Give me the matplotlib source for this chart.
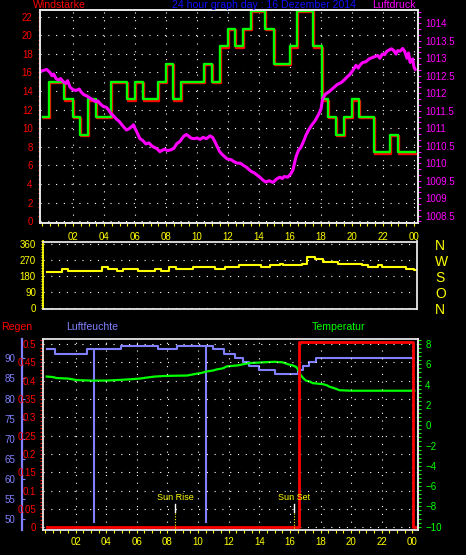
import numpy as np
import matplotlib
matplotlib.use('Agg')
import matplotlib.pyplot as plt
from matplotlib.ticker import MultipleLocator, FuncFormatter
from matplotlib.transforms import offset_copy

plt.rcParams['font.family'] = ['Liberation Sans', 'DejaVu Sans']

# --- data (hours since midnight) ---
hour_ticks = list(range(2, 25, 2))
hour_labels = ['%02d' % (h % 24) for h in hour_ticks]

# wind speed (step series, value holds until next time)
wind_t = [0.08, 0.47, 1.44, 1.98, 2.45, 2.99, 3.46, 4.43, 5.46, 6.0,
          6.5, 7.48, 7.98, 8.47, 8.95, 10.45, 10.99, 11.48, 11.98, 12.45,
          12.95, 13.48, 14.41, 14.99, 16.0, 16.43, 17.5, 18.05, 18.43, 18.97,
          19.5, 20.0, 20.47, 21.44, 22.45, 22.95, 24.08]
wind_v = [11.2, 15.0, 13.1, 11.2, 9.3, 13.1, 11.2, 15.0, 13.1, 15.0,
          13.1, 15.0, 16.9, 13.1, 15.0, 16.9, 15.0, 18.8, 20.7, 18.8,
          20.7, 22.6, 20.7, 16.9, 18.8, 22.6, 18.8, 13.1, 11.2, 9.3,
          11.2, 13.1, 11.2, 7.4, 9.3, 7.4, 7.4]

# air pressure (hPa)
press_t = [0.0, 0.3, 0.5, 0.65, 0.75, 0.9, 1.05, 1.2, 1.35, 1.53,
           1.65, 1.8, 2.0, 2.2, 2.4, 2.55, 2.7, 2.9, 3.1, 3.25,
           3.45, 3.6, 3.8, 3.96, 4.15, 4.3, 4.45, 4.6, 4.8, 4.97,
           5.15, 5.3, 5.45, 5.6, 5.8, 5.9, 6.0, 6.15, 6.32, 6.5,
           6.7, 6.9, 7.07, 7.25, 7.4, 7.6, 7.72, 7.9, 8.1, 8.3,
           8.5, 8.7, 8.9, 9.12, 9.3, 9.45, 9.6, 9.8, 10.0, 10.2,
           10.4, 10.6, 10.84, 11.0, 11.15, 11.3, 11.45, 11.6, 11.8, 11.95,
           12.2, 12.4, 12.6, 12.8, 12.95, 13.2, 13.48, 13.7, 13.91, 14.1,
           14.3, 14.45, 14.65, 14.9, 15.14, 15.35, 15.5, 15.63, 15.85, 16.06,
           16.2, 16.3, 16.4, 16.56, 16.7, 16.9, 17.03, 17.2, 17.42, 17.6,
           17.85, 18.0, 18.11, 18.3, 18.54, 18.8, 19.05, 19.29, 19.5, 19.65,
           19.83, 20.0, 20.15, 20.26, 20.4, 20.55, 20.7, 20.9, 21.1, 21.3,
           21.5, 21.66, 21.8, 21.95, 22.1, 22.25, 22.41, 22.55, 22.7, 22.84,
           22.95, 23.1, 23.27, 23.4, 23.55, 23.65, 23.75, 23.92, 24.0, 24.08]
press_v = [1012.64, 1012.68, 1012.6, 1012.5, 1012.55, 1012.42, 1012.38, 1012.42, 1012.34, 1012.28,
           1012.36, 1012.18, 1012.1, 1012.08, 1012.12, 1012.02, 1011.96, 1011.92, 1011.86, 1011.82,
           1011.76, 1011.78, 1011.68, 1011.62, 1011.6, 1011.52, 1011.42, 1011.36, 1011.26, 1011.2,
           1011.1, 1011.02, 1010.95, 1010.98, 1011.05, 1011.1, 1011.0, 1010.86, 1010.7, 1010.65,
           1010.55, 1010.58, 1010.5, 1010.45, 1010.42, 1010.33, 1010.36, 1010.4, 1010.36, 1010.38,
           1010.42, 1010.56, 1010.62, 1010.76, 1010.82, 1010.78, 1010.72, 1010.7, 1010.72, 1010.68,
           1010.74, 1010.7, 1010.78, 1010.74, 1010.62, 1010.48, 1010.34, 1010.26, 1010.18, 1010.12,
           1010.1, 1010.04, 1010.0, 1010.0, 1009.95, 1009.88, 1009.77, 1009.72, 1009.65, 1009.58,
           1009.5, 1009.46, 1009.5, 1009.45, 1009.55, 1009.6, 1009.56, 1009.62, 1009.6, 1009.7,
           1009.82, 1010.02, 1010.2, 1010.38, 1010.45, 1010.65, 1010.8, 1010.95, 1011.1, 1011.2,
           1011.4, 1011.55, 1011.85, 1011.98, 1012.05, 1012.15, 1012.25, 1012.3, 1012.38, 1012.45,
           1012.52, 1012.62, 1012.72, 1012.8, 1012.72, 1012.82, 1012.88, 1012.9, 1012.98, 1013.02,
           1013.05, 1013.08, 1013.0, 1013.12, 1013.1, 1013.2, 1013.24, 1013.27, 1013.22, 1013.12,
           1013.22, 1013.2, 1013.28, 1013.2, 1013.0, 1013.15, 1012.88, 1012.98, 1012.75, 1012.68]

# wind direction (degrees, step series)
dir_t = [0.33, 1.29, 1.72, 3.85, 4.28, 4.82, 5.24, 6.21, 7.28, 7.65,
         8.2, 8.6, 9.7, 11.15, 11.75, 12.65, 14.05, 14.65, 15.3, 15.5,
         16.7, 17.05, 17.55, 18.05, 19.0, 20.55, 20.95, 21.55, 21.85, 23.35,
         23.9, 24.0]
dir_v = [204, 221, 210, 232, 221, 210, 221, 210, 221, 210,
         232, 221, 232, 221, 232, 243, 232, 243, 248, 243,
         249, 289, 274, 261, 249, 243, 232, 243, 232, 221,
         214, 214]
dir_ticks = [0, 90, 180, 270, 360]
compass = ['N', 'O', 'S', 'W', 'N']

# rain (mm, step series)
rain_t = [0.11, 16.62, 24.03, 24.2]
rain_v = [0.0, 0.505, 0.0, 0.0]

# humidity (%, step series) plus two single-reading drop-outs
hum_t = [0.11, 0.65, 2.72, 4.95, 7.41, 8.61, 11.0, 11.7, 12.4, 12.92,
         13.35, 14.0, 15.05, 16.51, 16.88, 17.28, 17.71, 24.13]
hum_v = [92.2, 91.1, 92.2, 93.1, 92.2, 93.1, 92.2, 91.1, 90.15, 89.2,
         88.2, 87.1, 86.2, 87.1, 88.2, 89.2, 90.15, 90.15]
hum_drop_t = [3.22, 10.5]
hum_drop_v = [49.0, 49.0]

# temperature (deg C)
temp_t = [0.11, 0.5, 0.76, 1.5, 2.07, 3.0, 4.0, 4.69, 5.5, 6.21,
          6.76, 7.2, 7.74, 8.5, 9.3, 9.8, 10.2, 10.57, 11.0, 11.22,
          11.6, 11.88, 12.3, 12.6, 12.92, 13.3, 14.0, 14.5, 15.0, 15.53,
          15.9, 16.18, 16.4, 16.51, 16.6, 16.73, 16.9, 17.05, 17.3, 17.49,
          18.14, 18.4, 18.58, 19.0, 19.23, 20.0, 24.13]
temp_v = [4.8, 4.75, 4.65, 4.6, 4.45, 4.4, 4.4, 4.45, 4.52, 4.6,
          4.72, 4.8, 4.85, 4.88, 4.9, 5.05, 5.15, 5.3, 5.4, 5.5,
          5.6, 5.8, 5.86, 5.9, 6.0, 6.12, 6.18, 6.22, 6.25, 6.2,
          6.0, 5.9, 5.75, 5.55, 5.2, 4.9, 4.6, 4.4, 4.3, 4.15,
          4.05, 3.95, 3.8, 3.6, 3.45, 3.4, 3.4]

sun_t = [8.52, 16.3]
sun_labels = ['Sun Rise', 'Sun Set']

# --- styling ---
SPINE = '#e6e6e6'
GREEN = '#00ff00'
MAGENTA = '#ff00ff'
HUMCOL = '#8080ff'
GRID = dict(color='white', linestyle=(0, (1, 6)), linewidth=0.8)
TICK = 7
TITLE = 7.6


def base(ax):
    ax.set_facecolor('none')
    for s in ax.spines.values():
        s.set_color(SPINE)
        s.set_linewidth(1.3)


fig = plt.figure(figsize=(4.66, 5.55), dpi=100, facecolor='black')

# top panel: wind speed + pressure
ax1 = fig.add_axes([40 / 466, 1 - 223 / 555, 378 / 466, 213 / 555])
base(ax1)
shadow = offset_copy(ax1.transData, fig=fig, x=1, y=-1.5, units='dots')
ax1.step(wind_t, wind_v, where='post', color='red', lw=1.7, transform=shadow)
ax1.step(wind_t, wind_v, where='post', color=GREEN, lw=1.7)
ax1.set_xlim(-0.13, 24.26)
ax1.set_ylim(-0.2, 22.7)
ax1.set_xticks(hour_ticks)
ax1.set_xticklabels(hour_labels)
ax1.xaxis.set_minor_locator(MultipleLocator(0.5))
ax1.set_yticks(range(0, 23, 2))
ax1.yaxis.set_minor_locator(MultipleLocator(0.5))
ax1.tick_params(axis='x', which='both', colors='yellow', length=2.2, width=0.8,
                labelsize=TICK, pad=4)
ax1.tick_params(axis='y', which='both', colors='red', length=1.7, width=0.8,
                labelsize=TICK, pad=3.6)
ax1.grid(True, **GRID)

ax1r = ax1.twinx()
base(ax1r)
ax1r.plot(press_t, press_v, color=MAGENTA, lw=2.2)
ax1r.set_ylim(1008.29, 1014.38)
ax1r.set_yticks(np.arange(1008.5, 1014.01, 0.5))
ax1r.yaxis.set_major_formatter(FuncFormatter(lambda v, p: '%g' % v))
ax1r.yaxis.set_minor_locator(MultipleLocator(0.5 / 3))
ax1r.tick_params(axis='y', which='both', colors=MAGENTA, length=2.2, width=0.8,
                 labelsize=TICK, pad=2.9)

fig.text(33 / 466, 1 - 5.5 / 555, 'Windstärke', color='red', fontsize=TITLE,
         ha='left', va='center')
fig.text(172 / 466, 1 - 5.5 / 555, '24 hour graph day : 16 Dezember 2014',
         color='#1010ff', fontsize=TITLE, ha='left', va='center')
fig.text(372 / 466, 1 - 5.5 / 555, 'Luftdruck', color=MAGENTA, fontsize=TITLE,
         ha='left', va='center')

# middle panel: wind direction
ax2 = fig.add_axes([43 / 466, 1 - 309 / 555, 374 / 466, 67.5 / 555])
base(ax2)
ax2.spines['left'].set_color('yellow')
ax2.step(dir_t, dir_v, where='post', color='yellow', lw=1.5)
ax2.set_xlim(0.1, 24.07)
ax2.set_ylim(-5, 375)
ax2.set_xticks([])
ax2.set_yticks(dir_ticks)
ax2.yaxis.set_minor_locator(MultipleLocator(15))
ax2.tick_params(axis='y', which='both', colors='yellow', length=1.5, width=0.8,
                labelsize=TICK, pad=3.6)
ax2.grid(True, axis='y', **GRID)

ax2r = ax2.twinx()
ax2r.set_facecolor('none')
for s in ax2r.spines.values():
    s.set_visible(False)
ax2r.set_ylim(-5, 375)
ax2r.set_yticks(dir_ticks)
ax2r.set_yticklabels(compass)
ax2r.tick_params(axis='y', length=0, colors='yellow', labelsize=10, pad=13)

# bottom panel: rain, humidity, temperature
ax3 = fig.add_axes([42.7 / 466, 1 - 530 / 555, 375 / 466, 191 / 555])
ax3h = ax3.twinx()
ax3t = ax3.twinx()
for a in (ax3, ax3h, ax3t):
    base(a)
ax3h.set_zorder(0)
ax3t.set_zorder(1)
ax3.set_zorder(2)

ax3h.step(hum_t, hum_v, where='post', color=HUMCOL, lw=1.5)
idx = np.searchsorted(hum_t, hum_drop_t, side='right') - 1
ax3h.vlines(hum_drop_t, hum_drop_v, np.array(hum_v)[idx], colors=HUMCOL, lw=1.5)
ax3t.plot(temp_t, temp_v, color=GREEN, lw=1.6)
ax3.step(rain_t, rain_v, where='post', color='red', lw=2)

ax3.set_xlim(-0.15, 24.35)
ax3.set_ylim(-0.0074, 0.5136)
ax3.set_xticks(hour_ticks)
ax3.set_xticklabels(hour_labels)
ax3.xaxis.set_minor_locator(MultipleLocator(0.5))
ax3.set_yticks(np.arange(0, 0.501, 0.05))
ax3.yaxis.set_major_formatter(FuncFormatter(lambda v, p: '%g' % round(v, 2)))
ax3.yaxis.set_minor_locator(MultipleLocator(0.01))
ax3.tick_params(axis='x', which='both', colors='yellow', length=2.2, width=0.8,
                labelsize=TICK, pad=2.5)
ax3.tick_params(axis='y', which='both', colors='red', length=2.4, width=0.8,
                labelsize=TICK, pad=2.4)
ax3.grid(True, **GRID)

ax3h.set_ylim(47.35, 94.8)
for side in ('right', 'top', 'bottom'):
    ax3h.spines[side].set_visible(False)
ax3h.spines['left'].set_visible(True)
ax3h.spines['left'].set_position(('axes', -0.0557))
ax3h.spines['left'].set_color(HUMCOL)
ax3h.spines['left'].set_linewidth(1.6)
ax3h.yaxis.tick_left()
ax3h.set_yticks(range(50, 91, 5))
ax3h.tick_params(axis='y', colors=HUMCOL, direction='in', length=2, width=0.8,
                 labelsize=TICK, pad=4.9)

ax3t.set_ylim(-10.33, 8.5)
for side in ('left', 'top', 'bottom'):
    ax3t.spines[side].set_visible(False)
ax3t.set_yticks(range(-10, 9, 2))
ax3t.yaxis.set_minor_locator(MultipleLocator(0.4))
ax3t.tick_params(axis='y', which='both', colors=GREEN, length=2.2, width=0.8,
                 labelsize=TICK, pad=3.2)

# sunrise / sunset markers
xt = ax3.get_xaxis_transform()
for t, lab in zip(sun_t, sun_labels):
    ax3.text(t, 0.169, lab, transform=xt, color='yellow', fontsize=6.5,
             ha='center', va='center')
    ax3.plot([t, t], [0.096, 0.136], transform=xt, color='white', lw=1)
    ax3.plot([t, t], [0.01, 0.094], transform=xt, color='yellow', lw=0.8,
             linestyle=(0, (1, 1.5)))

fig.text(1 / 466, 1 - 327 / 555, 'Regen', color='red', fontsize=TITLE,
         ha='left', va='center')
fig.text(66 / 466, 1 - 327 / 555, 'Luftfeuchte', color=HUMCOL, fontsize=TITLE,
         ha='left', va='center')
fig.text(312 / 466, 1 - 327 / 555, 'Temperatur', color=GREEN, fontsize=TITLE,
         ha='left', va='center')

fig.savefig('out.png', dpi=100, facecolor='black')
